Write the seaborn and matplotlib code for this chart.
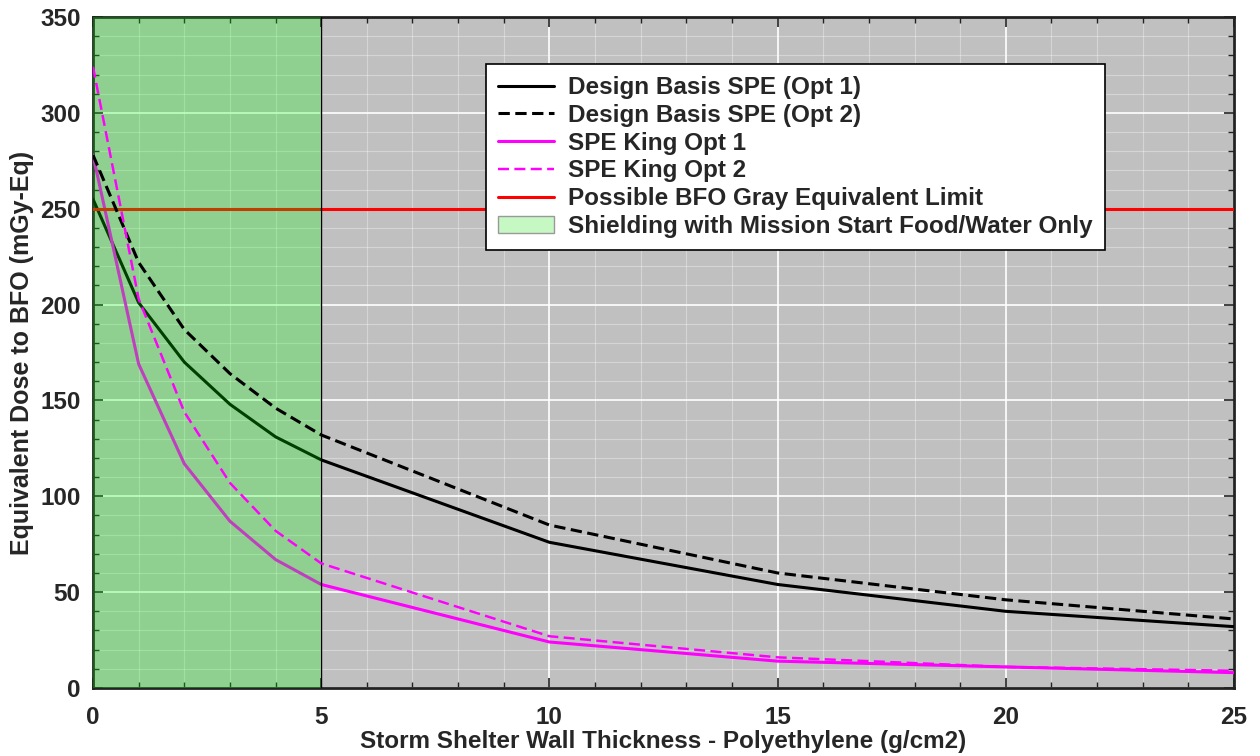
import numpy as np
import pandas as pd
import matplotlib
matplotlib.use("Agg")
import matplotlib.pyplot as plt
import seaborn as sns
from matplotlib.ticker import MultipleLocator
from matplotlib.patches import Patch
from matplotlib.lines import Line2D

thickness = [0, 1, 2, 3, 4, 5, 10, 15, 20, 25]
design_opt1 = [255, 201, 170, 148, 131, 119, 76, 54, 40, 32]
design_opt2 = [278, 222, 187, 164, 146, 132, 85, 60, 46, 36]
king_opt1 = [278, 169, 117, 87, 67, 54, 24, 14, 11, 8]
king_opt2 = [324, 203, 144, 107, 82, 65, 27, 16, 11, 9]
limit_value = 250
food_water_range = [0, 5]

labels = ["Design Basis SPE (Opt 1)", "Design Basis SPE (Opt 2)",
          "SPE King Opt 1", "SPE King Opt 2",
          "Possible BFO Gray Equivalent Limit",
          "Shielding with Mission Start Food/Water Only"]

sns.set_style("ticks")
plt.rcParams['font.family'] = ['Liberation Sans', 'DejaVu Sans']
plt.rcParams['font.weight'] = 'bold'

fig = plt.figure(figsize=(12.6, 7.56), dpi=100)
ax = fig.add_axes([93/1260, 1-688/756, (1234-93)/1260, (688-17)/756])
ax.set_facecolor('#c0c0c0')

df = pd.DataFrame({"x": thickness, "d1": design_opt1, "d2": design_opt2,
                   "k1": king_opt1, "k2": king_opt2})

lw = 2.2
dash_black = (0, (3.7, 1.8))
dash_mag = (0, (4.5, 2.2))
sns.lineplot(data=df, x="x", y="d1", ax=ax, color='black', lw=lw, zorder=3)
sns.lineplot(data=df, x="x", y="k1", ax=ax, color='#ff00ff', lw=lw, zorder=3)
ax.axhline(limit_value, color='#ff0000', lw=lw, zorder=3)
ax.axvspan(food_water_range[0], food_water_range[1], facecolor=(0, 1, 0, 0.25),
           edgecolor='none', zorder=4)
ax.axvline(food_water_range[1], color='black', lw=1.0, zorder=4)
sns.lineplot(data=df, x="x", y="d2", ax=ax, color='black', lw=lw, zorder=5,
             linestyle=dash_black)
sns.lineplot(data=df, x="x", y="k2", ax=ax, color='#ff00ff', lw=lw*0.8, zorder=5,
             linestyle=dash_mag)

ax.set_xlim(0, 25)
ax.set_ylim(0, 350)
ax.xaxis.set_major_locator(MultipleLocator(5))
ax.xaxis.set_minor_locator(MultipleLocator(1))
ax.yaxis.set_major_locator(MultipleLocator(50))
ax.yaxis.set_minor_locator(MultipleLocator(10))
ax.grid(which='major', color='white', lw=1.2, zorder=1)
ax.grid(which='minor', color='white', lw=0.8, alpha=0.35, zorder=1)
ax.set_axisbelow(True)
ax.tick_params(which='both', direction='in', top=True, right=True, color='#222222')
ax.tick_params(which='major', length=7, width=1.2, labelsize=17.5)
ax.tick_params(axis='x', which='major', pad=13)
ax.tick_params(axis='y', which='major', pad=9)
ax.tick_params(which='minor', length=4, width=1.0)
for lab in ax.get_xticklabels() + ax.get_yticklabels():
    lab.set_fontweight('bold')
for s in ax.spines.values():
    s.set_color('#222222')
    s.set_linewidth(2)

ax.set_xlabel("Storm Shelter Wall Thickness - Polyethylene (g/cm2)", fontsize=17.5,
              fontweight='bold', labelpad=1)
ax.set_ylabel("Equivalent Dose to BFO (mGy-Eq)", fontsize=18, fontweight='bold', labelpad=4)

handles = [Line2D([], [], color='black', lw=lw),
           Line2D([], [], color='black', lw=lw, linestyle=dash_black),
           Line2D([], [], color='#ff00ff', lw=lw),
           Line2D([], [], color='#ff00ff', lw=lw*0.8, linestyle=dash_mag),
           Line2D([], [], color='#ff0000', lw=lw),
           Patch(facecolor='#c6f8c4', edgecolor='#999999')]
leg = ax.legend(handles, labels, loc='upper left', bbox_to_anchor=(0.3444, 0.930),
                fontsize=17.5, frameon=True, fancybox=False, framealpha=1,
                edgecolor='black', handlelength=2.3, handletextpad=0.58,
                labelspacing=0.195, borderpad=0.5, borderaxespad=0)
leg.get_frame().set_linewidth(1.2)
for t in leg.get_texts():
    t.set_fontweight('bold')
leg.set_zorder(10)

fig.savefig("out.png", dpi=100)
